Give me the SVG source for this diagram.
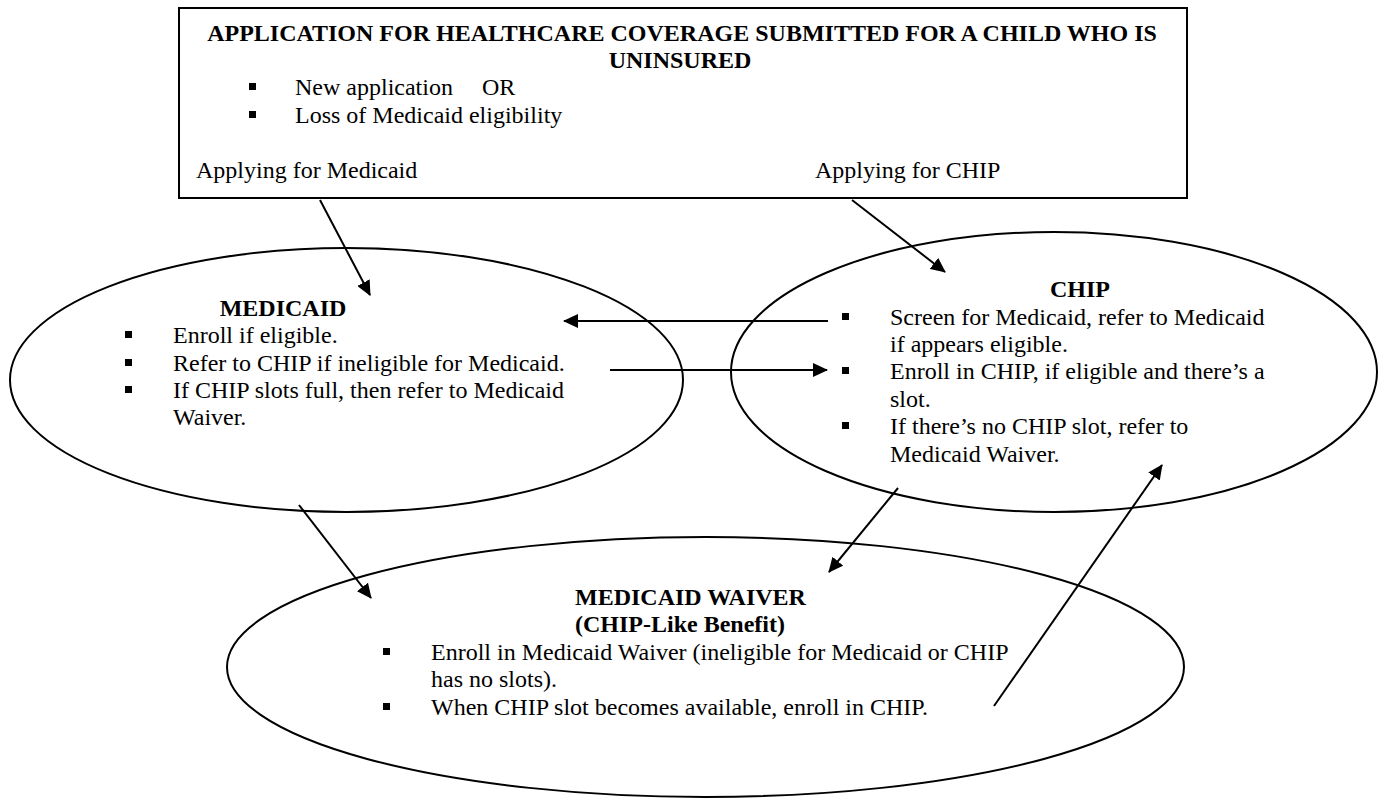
<svg xmlns="http://www.w3.org/2000/svg" width="1379" height="801" viewBox="0 0 1379 801">
<style>
text{font-family:"Liberation Serif","Times New Roman",serif;font-size:24px;fill:#000}
.b{font-weight:bold}
.c{text-anchor:middle}
.shape{fill:none;stroke:#000;stroke-width:2}
.bul{fill:#000}
.conn{stroke:#000;stroke-width:2;fill:none}
</style>
<defs>
<marker id="ah" markerWidth="16" markerHeight="14" refX="14" refY="7" orient="auto" markerUnits="userSpaceOnUse">
<path d="M0,0 L15,7 L0,14 z" fill="#000"/>
</marker>
</defs>
<rect width="1379" height="801" fill="#fff"/>
<g id="application">
<rect class="shape" x="179" y="8" width="1008" height="190"/>
<text class="b c" x="682" y="41">APPLICATION FOR HEALTHCARE COVERAGE SUBMITTED FOR A CHILD WHO IS</text>
<text class="b c" x="680" y="68">UNINSURED</text>
<rect class="bul" x="249" y="83" width="7" height="7"/>
<text x="295" y="95">New application<tspan x="482">OR</tspan></text>
<rect class="bul" x="249" y="111" width="7" height="7"/>
<text x="295" y="123">Loss of Medicaid eligibility</text>
<text x="196" y="178">Applying for Medicaid</text>
<text x="815" y="178">Applying for CHIP</text>
</g>
<g id="medicaid">
<ellipse class="shape" cx="346.5" cy="380" rx="336.5" ry="132"/>
<text class="b c" x="283" y="316">MEDICAID</text>
<rect class="bul" x="125" y="331" width="7" height="7"/>
<text x="173" y="343">Enroll if eligible.</text>
<rect class="bul" x="125" y="359" width="7" height="7"/>
<text x="173" y="371">Refer to CHIP if ineligible for Medicaid.</text>
<rect class="bul" x="125" y="386" width="7" height="7"/>
<text x="173" y="398">If CHIP slots full, then refer to Medicaid</text>
<text x="173" y="425">Waiver.</text>
</g>
<g id="chip">
<ellipse class="shape" cx="1054" cy="372" rx="323" ry="140"/>
<text class="b c" x="1080" y="297">CHIP</text>
<rect class="bul" x="842" y="313" width="7" height="7"/>
<text x="890" y="325">Screen for Medicaid, refer to Medicaid</text>
<text x="890" y="352">if appears eligible.</text>
<rect class="bul" x="842" y="367" width="7" height="7"/>
<text x="890" y="379">Enroll in CHIP, if eligible and there’s a</text>
<text x="890" y="407">slot.</text>
<rect class="bul" x="842" y="422" width="7" height="7"/>
<text x="890" y="434">If there’s no CHIP slot, refer to</text>
<text x="890" y="462">Medicaid Waiver.</text>
</g>
<g id="waiver">
<ellipse class="shape" cx="705.5" cy="667" rx="478.5" ry="130"/>
<text class="b" x="575" y="605">MEDICAID WAIVER</text>
<text class="b" x="575" y="632">(CHIP-Like Benefit)</text>
<rect class="bul" x="383" y="648" width="7" height="7"/>
<text x="431" y="660">Enroll in Medicaid Waiver (ineligible for Medicaid or CHIP</text>
<text x="431" y="687">has no slots).</text>
<rect class="bul" x="383" y="703" width="7" height="7"/>
<text x="431" y="715">When CHIP slot becomes available, enroll in CHIP.</text>
</g>
<g id="connectors">
<line class="conn" x1="320" y1="200" x2="370" y2="295" marker-end="url(#ah)"/>
<line class="conn" x1="852" y1="200" x2="945" y2="272" marker-end="url(#ah)"/>
<line class="conn" x1="828" y1="321" x2="564" y2="321" marker-end="url(#ah)"/>
<line class="conn" x1="610" y1="370" x2="827" y2="370" marker-end="url(#ah)"/>
<line class="conn" x1="299" y1="505" x2="371" y2="598" marker-end="url(#ah)"/>
<line class="conn" x1="898" y1="488" x2="829" y2="572" marker-end="url(#ah)"/>
<line class="conn" x1="994" y1="706" x2="1162" y2="465" marker-end="url(#ah)"/>
</g>
</svg>
